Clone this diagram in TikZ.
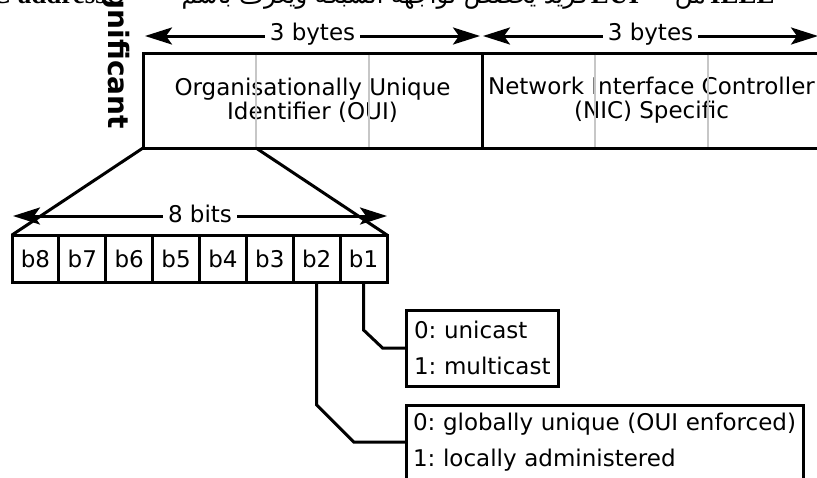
\documentclass[tikz,border=0pt]{standalone}
\usepackage{fontspec}
\setmainfont{DejaVu Sans}
\newfontfamily\arabicfont[Script=Arabic]{DejaVu Sans}
\newfontfamily\latserif{Liberation Serif}
\TeXXeTstate=1
\usetikzlibrary{arrows.meta,calc}

\begin{document}
\frenchspacing
\begin{tikzpicture}[x=1pt,y=-1pt,
  every node/.style={inner sep=0pt, outer sep=0pt},
  field/.style={draw, line width=3pt, minimum width=339pt, minimum height=95pt, align=center, font=\fontsize{23}{24}\selectfont},
  bitcell/.style={draw, line width=3pt, minimum width=46.875pt, minimum height=47pt, font=\fontsize{23}{24}\selectfont},
  legend/.style={draw, line width=3pt, align=left, inner ysep=0pt, font=\fontsize{23}{36}\selectfont},
  span/.style={line width=3pt, {Stealth[length=27pt,width=17pt,inset=6pt]}-{Stealth[length=27pt,width=17pt,inset=6pt]}},
  spanlabel/.style={fill=white, inner xsep=5pt, inner ysep=2pt, yshift=2pt, font=\fontsize{23}{24}\selectfont},
  divider/.style={line width=2pt, draw=black!22, shorten <=1.5pt, shorten >=1.5pt},
  link/.style={line width=3pt, line join=miter},
  topline/.style={font=\latserif\bfseries\fontsize{27}{30}\selectfont},
  toparabic/.style={font=\arabicfont\fontsize{24}{28}\selectfont}
]
\useasboundingbox (0,0) rectangle (817,477);
\clip (0,0) rectangle (817,477);

% clipped caption line at the top
\node[topline, anchor=base east] (capaddr) at (106,3) {MAC address};
\node[toparabic, anchor=base east] (capar1) at (588,3) {\beginR فريد يُخصّص لواجهة الشبكة ويُعرف باسم\endR};
\node[topline, anchor=base] (capeui) at (615,3) {EUI};
\node[toparabic, anchor=base east] (capar2) at (706,3) {\beginR من\endR};
\node[topline, anchor=base west] (capieee) at (710,3) {IEEE};

% rotated side label
\node[rotate=-90, anchor=base east, font=\bfseries\fontsize{28}{30}\selectfont] (msb) at (108,129) {Most significant};

% address fields
\node[field] (oui) at (312.5,100.5) {Organisationally Unique\\Identifier (OUI)};
\node[field] (nic) at (651.5,100.5) {Network Interface Controller\\(NIC) Specific};
\foreach \f in {oui,nic}{
  \draw[divider] ($(\f.north west)!1/3!(\f.north east)$) -- ($(\f.south west)!1/3!(\f.south east)$);
  \draw[divider] ($(\f.north west)!2/3!(\f.north east)$) -- ($(\f.south west)!2/3!(\f.south east)$);
}

% byte spans
\coordinate (s1l) at (145,36);
\coordinate (s1r) at (480,36);
\coordinate (s2l) at (483,36);
\coordinate (s2r) at (818,36);
\draw[span] (s1l) -- (s1r) node[midway, spanlabel] (lab1) {3 bytes};
\draw[span] (s2l) -- (s2r) node[midway, spanlabel] (lab2) {3 bytes};

% bits
\foreach \i [count=\k] in {8,7,6,5,4,3,2,1}
  \node[bitcell] (b\i) at ({12+46.875*(\k-0.5)},258.5) {b\i};

% zoom lines
\coordinate (o1) at ($(oui.south west)!1/3!(oui.south east)$);
\draw[link] (oui.south west) -- (b8.north west);
\draw[link] (o1) -- (b1.north east);

% 8 bits span
\draw[span] ([xshift=1pt,yshift=19pt]b8.north west) -- ([yshift=19pt]b1.north east) node[midway, spanlabel] (lab3) {8 bits};

% legends
\node[legend, text width=136pt, inner xsep=8pt, minimum height=76pt] (cast) at (482,348) {\mbox{0: unicast}\\\mbox{1: multicast}};
\node[legend, text width=383pt, inner xsep=7pt, minimum height=74pt] (admin) at (604.5,442) {\mbox{0: globally unique (OUI enforced)}\\\mbox{1: locally administered}};

\draw[link] (b1.south) -- ++(0,48) -- ++(19,18) -- (cast.west);
\draw[link] (b2.south) -- ++(0,123) -- ++(37,37) -- (admin.west);
\end{tikzpicture}
\end{document}
